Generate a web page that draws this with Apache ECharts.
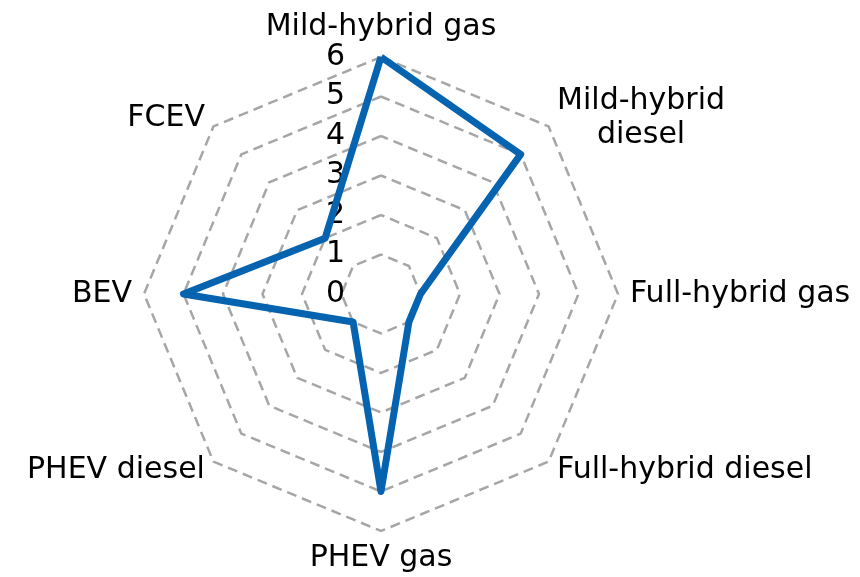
<!DOCTYPE html>
<html>
<head>
<meta charset="utf-8">
<script src="https://cdn.jsdelivr.net/npm/echarts@6/dist/echarts.min.js"></script>
<style>html,body{margin:0;padding:0;background:#fff}#c{width:860px;height:577px}</style>
</head>
<body>
<div id="c"></div>
<script>
// Categories in clockwise order starting from the top
var categories = ['Mild-hybrid gas', 'Mild-hybrid diesel', 'Full-hybrid gas', 'Full-hybrid diesel', 'PHEV gas', 'PHEV diesel', 'BEV', 'FCEV'];
var values = [6, 5, 1, 1, 5, 1, 5, 2];
var axisMax = 6;
var tickLabels = ['0', '1', '2', '3', '4', '5', '6'];

// ECharts radar runs counter-clockwise: reorder so the picture reads clockwise
var order = [0];
for (var i = categories.length - 1; i >= 1; i--) order.push(i);

var FONT = 'DejaVu Sans';
var indicators = order.map(function (idx, k) {
  var ind = { name: categories[idx], max: axisMax, min: 0 };
  if (k === 0) {
    ind.axisLabel = {
      show: true,
      margin: 36,
      color: '#000',
      fontFamily: FONT,
      fontSize: 30,
      formatter: function (v) { return tickLabels[Math.round(v)]; }
    };
  }
  return ind;
});
var seriesValues = order.map(function (idx) { return values[idx]; });

var chart = echarts.init(document.getElementById('c'));
chart.setOption({
  animation: false,
  radar: {
    center: [381, 294],
    radius: 237,
    startAngle: 90,
    shape: 'polygon',
    splitNumber: 6,
    indicator: indicators,
    axisName: {
      color: '#000',
      fontFamily: FONT,
      fontSize: 30,
      formatter: function (name) {
        if (name === 'Mild-hybrid diesel') return '{c|Mild-hybrid}\n{c|diesel}';
        return name;
      },
      rich: {
        c: { width: 168, align: 'center', fontFamily: FONT, fontSize: 30, color: '#000', lineHeight: 34 }
      }
    },
    nameGap: 12,
    axisLine: { show: false },
    axisTick: { show: false },
    axisLabel: { show: false },
    splitArea: { show: false },
    splitLine: {
      lineStyle: { color: '#A6A6A6', width: 2.5, type: [10, 6] }
    }
  },
  series: [{
    type: 'radar',
    symbol: 'none',
    lineStyle: { color: '#0563B0', width: 7, join: 'round' },
    data: [{ value: seriesValues }]
  }]
});
</script>
</body>
</html>
